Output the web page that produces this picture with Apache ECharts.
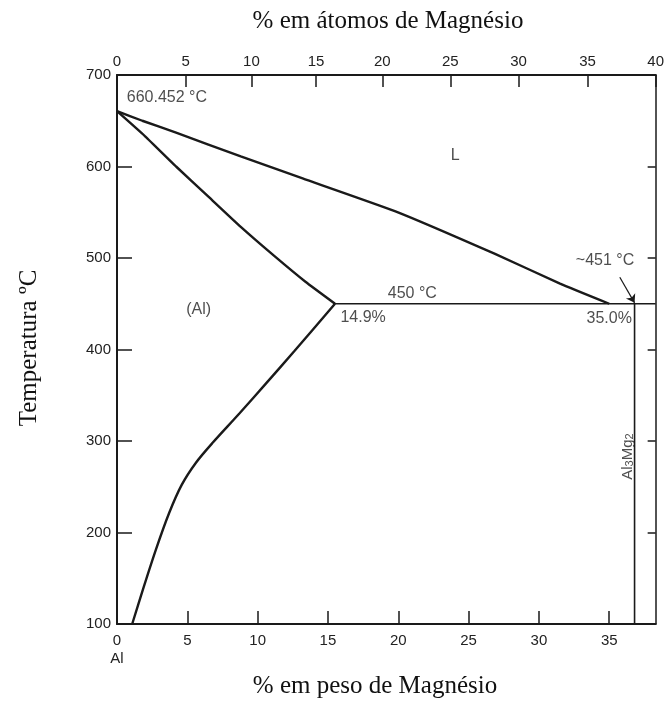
<!DOCTYPE html>
<html>
<head>
<meta charset="utf-8">
<script src="https://cdn.jsdelivr.net/npm/echarts@6/dist/echarts.min.js"></script>
<style>
  html, body { margin: 0; padding: 0; background: #fff; }
  #main { width: 667px; height: 701px; }
</style>
</head>
<body>
<div id="main"></div>
<script>
// composição em % peso de Mg (eixo de baixo) e temperatura em °C
const liquidusWt = [0, 1.8, 4.2, 8.8, 13.2, 19.8, 26.8, 31.5, 35.0];
const liquidusT = [660.452, 650, 637, 611, 587, 551, 505, 472, 450];
const solidusWt = [0, 2.0, 4.2, 6.5, 8.8, 11.2, 13.4, 15.5];
const solidusT = [660.452, 633, 600, 567, 534, 502, 474, 450];
const solvusWt = [15.5, 12.6, 10.6, 8.7, 6.8, 5.6, 4.6, 3.7, 2.76, 1.83, 1.08];
const solvusT = [450, 398, 363, 330, 298, 276, 252, 221, 181, 137, 100];
const eutecticWt = [15.5, 38.3];
const eutecticT = [450, 450];
const phaseWt = [36.8, 36.8]; // Al3Mg2
const phaseT = [450, 100];
const arrowWt = [35.75, 36.8];
const arrowT = [479, 451];

// eixos
const wtTicks = [0, 5, 10, 15, 20, 25, 30, 35];
const atLabels = [0, 5, 10, 15, 20, 25, 30, 35, 40];
const atTickWt = [0, 4.89, 9.56, 14.15, 18.86, 23.7, 28.55, 33.46, 38.3]; // posição das marcas de % atómica, lidas em % peso
const tempTicks = [200, 300, 400, 500, 600];

// anotações dentro do diagrama
const noteText = ['660.452 °C', 'L', '(Al)', '450 °C', '14.9%', '35.0%', '~451 °C'];
const noteWt = [3.55, 24.05, 5.8, 21.0, 17.5, 35.0, 34.7];
const noteT = [675, 612, 444, 461, 435, 434, 497];

const ink = '#1a1a1a';
const grey = '#222';
const sans = '"Liberation Sans", Arial, sans-serif';
const serif = '"Liberation Serif", "Times New Roman", serif';

const pairs = (xs, ys) => xs.map((x, i) => [x, ys[i]]);

const curve = (name, data, width, smooth) => ({
  name: name,
  type: 'line',
  data: data,
  symbol: 'none',
  smooth: smooth,
  lineStyle: { color: ink, width: width },
  silent: true,
  z: 3
});

const myChart = echarts.init(document.getElementById('main'));

const option = {
  animation: false,
  grid: { left: 117, right: 4, top: 75, bottom: 77 },
  xAxis: [
    {
      type: 'value',
      position: 'bottom',
      min: 0,
      max: 38.3,
      axisLine: { show: true, onZero: false, lineStyle: { color: ink, width: 2 } },
      axisTick: { inside: true, length: 13, customValues: wtTicks.slice(1), lineStyle: { color: ink, width: 1.5 } },
      axisLabel: {
        customValues: wtTicks,
        margin: 8,
        color: grey,
        fontFamily: sans,
        fontSize: 15,
        lineHeight: 18,
        formatter: (v) => (v === 0 ? '0\nAl' : String(v))
      },
      splitLine: { show: false }
    },
    {
      type: 'value',
      position: 'top',
      min: 0,
      max: 38.3,
      axisLine: { show: true, onZero: false, lineStyle: { color: ink, width: 2 } },
      axisTick: { inside: true, length: 12, customValues: atTickWt.slice(1), lineStyle: { color: ink, width: 1.5 } },
      axisLabel: {
        customValues: atTickWt,
        margin: 6,
        color: grey,
        fontFamily: sans,
        fontSize: 15,
        formatter: (v) => {
          const i = atTickWt.findIndex((p) => Math.abs(p - v) < 1e-6);
          return i < 0 ? '' : String(atLabels[i]);
        }
      },
      splitLine: { show: false }
    }
  ],
  yAxis: [
    {
      type: 'value',
      position: 'left',
      min: 100,
      max: 700,
      interval: 100,
      axisLine: { show: true, onZero: false, lineStyle: { color: ink, width: 2 } },
      axisTick: { show: true, inside: true, length: 15, customValues: tempTicks, lineStyle: { color: ink, width: 1.5 } },
      axisLabel: { margin: 6, color: grey, fontFamily: sans, fontSize: 15 },
      splitLine: { show: false }
    },
    {
      type: 'value',
      position: 'right',
      min: 100,
      max: 700,
      interval: 100,
      axisLine: { show: true, onZero: false, lineStyle: { color: ink, width: 1.5 } },
      axisTick: { show: true, inside: true, length: 8, customValues: tempTicks, lineStyle: { color: ink, width: 1.5 } },
      axisLabel: { show: false },
      splitLine: { show: false }
    }
  ],
  series: [
    curve('liquidus', pairs(liquidusWt, liquidusT), 2.4, 0.15),
    curve('solidus', pairs(solidusWt, solidusT), 2.4, 0.15),
    curve('solvus', pairs(solvusWt, solvusT), 2.4, 0.3),
    curve('eutético', pairs(eutecticWt, eutecticT), 1.6, false),
    Object.assign(curve('Al3Mg2', pairs(phaseWt, phaseT), 1.6, false), {
      markLine: {
        silent: true,
        symbol: ['none', 'arrow'],
        symbolSize: 8,
        label: { show: false },
        lineStyle: { color: ink, width: 1.2, type: 'solid' },
        data: [[{ coord: [arrowWt[0], arrowT[0]] }, { coord: [arrowWt[1], arrowT[1]] }]]
      }
    }),
    {
      name: 'notas',
      type: 'scatter',
      symbolSize: 1,
      itemStyle: { color: 'rgba(0,0,0,0)' },
      silent: true,
      label: {
        show: true,
        position: 'inside',
        color: grey,
        fontFamily: sans,
        fontSize: 16,
        formatter: (p) => p.name
      },
      data: noteText.map((t, i) => ({ name: t, value: [noteWt[i], noteT[i]] })).concat([
        {
          name: 'Al3Mg2',
          value: [36.25, 283],
          label: {
            rotate: 90,
            formatter: '{a|Al}{s|3}{a|Mg}{s|2}',
            rich: {
              a: { fontFamily: sans, fontSize: 15, color: grey, verticalAlign: 'bottom', lineHeight: 18 },
              s: { fontFamily: sans, fontSize: 11, color: grey, verticalAlign: 'bottom', lineHeight: 12 }
            }
          }
        }
      ])
    }
  ],
  graphic: [
    {
      type: 'text', x: 388, y: 21,
      style: { text: '% em átomos de Magnésio', font: '25px ' + serif, fill: '#111', textAlign: 'center', textVerticalAlign: 'middle' }
    },
    {
      type: 'text', x: 375, y: 686,
      style: { text: '% em peso de Magnésio', font: '25px ' + serif, fill: '#111', textAlign: 'center', textVerticalAlign: 'middle' }
    },
    {
      type: 'text', x: 29, y: 348, rotation: Math.PI / 2,
      style: { text: 'Temperatura ºC', font: '25px ' + serif, fill: '#111', textAlign: 'center', textVerticalAlign: 'middle' }
    }
  ]
};

myChart.setOption(option);
window.onresize = () => {
  myChart.resize();
};
</script>
</body>
</html>
